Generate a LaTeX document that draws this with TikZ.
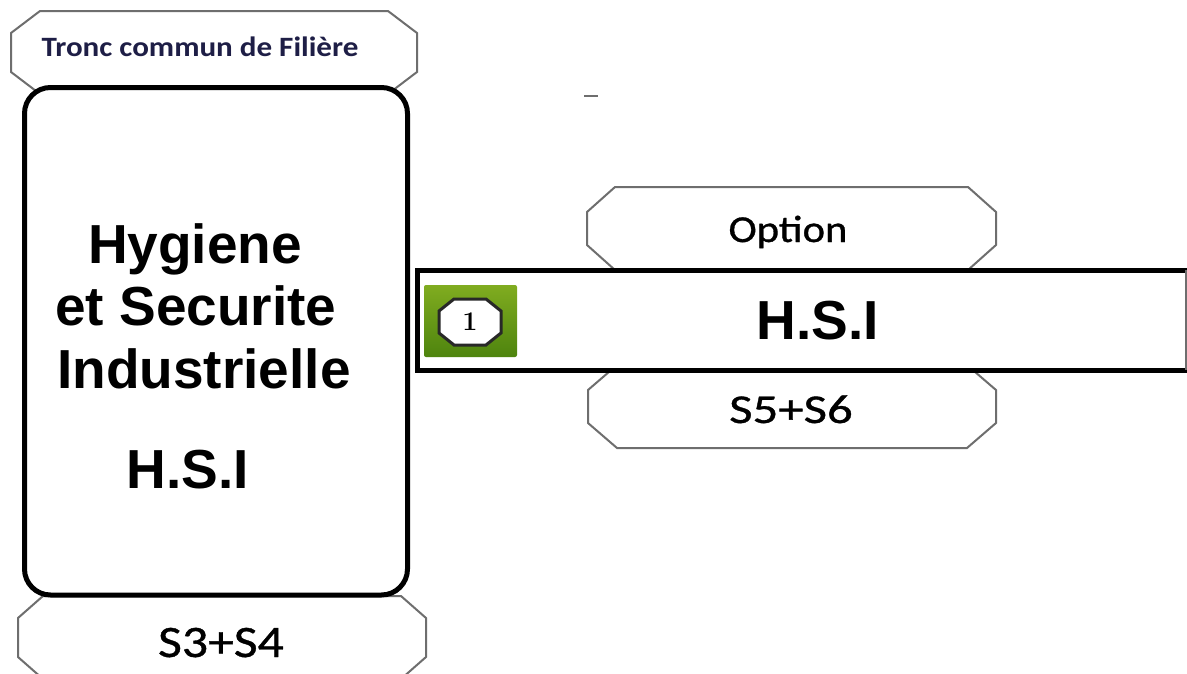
\documentclass[tikz,border=0pt]{standalone}
\usepackage{fontspec}
\usepackage{graphicx}
\usetikzlibrary{calc}
\newfontfamily\arialfont{Liberation Sans}
\newfontfamily\calfont{Carlito}[FakeBold=0.8]
\newfontfamily\calbold{Carlito Bold}
\definecolor{framegray}{RGB}{110,110,110}
\definecolor{navytext}{RGB}{30,30,70}
\definecolor{greentop}{RGB}{128,172,32}
\definecolor{greenbot}{RGB}{78,132,14}
\definecolor{octedge}{RGB}{40,40,40}
\newcommand\octoframe[4]{%
  \filldraw[#4] ($(#1.north west)+(#2,0)$) -- ($(#1.north east)+(-#2,0)$) -- ($(#1.north east)+(0,#3)$) -- ($(#1.south east)+(0,-#3)$) -- ($(#1.south east)+(-#2,0)$) -- ($(#1.south west)+(#2,0)$) -- ($(#1.south west)+(0,-#3)$) -- ($(#1.north west)+(0,#3)$) -- cycle;}
\begin{document}
\begin{tikzpicture}[x=1pt,y=-1pt,
  octo/.style={fill=white,draw=framegray,line width=2pt,line join=miter},
  badgeoct/.style={fill=white,draw=octedge,line width=3pt,line join=miter},
  holder/.style={draw=none,inner sep=0pt,outer sep=0pt},
  mainbox/.style={draw=black,fill=white,line width=5pt,rounded corners=26pt,inner sep=0pt,outer sep=0pt},
  bigtext/.style={inner sep=0pt,anchor=base,font=\arialfont\bfseries\fontsize{55}{60}\selectfont},
  caltext/.style={inner sep=0pt,anchor=base,font=\calfont}]
\useasboundingbox (0,0) rectangle (1187,673);
\clip (0,0) rectangle (1187,673);
\fill[white] (0,0) rectangle (1187,673);

% top label frame
\node[holder,minimum width=406pt,minimum height=83pt] (troncf) at (214,52.5) {};
\octoframe{troncf}{29}{22}{octo}
\node[inner sep=0pt,anchor=base,font=\calbold,text=navytext] (tronc) at (200,56) {\fontsize{28}{30}\selectfont\scalebox{1.11}[1]{Tronc commun de Filière}};

% bottom label frame (left)
\node[holder,minimum width=408pt,minimum height=83pt] (s34f) at (222,637.5) {};
\octoframe{s34f}{25}{22}{octo}

% main box
\node[mainbox,minimum width=383pt,minimum height=507.5pt] (hsibox) at (216,341.25) {};
\node[bigtext] (hyg) at (195,263) {Hygiene};
\node[bigtext] (etsec) at (196,325) {et Securite};
\node[bigtext] (indus) at (204,388) {Industrielle};
\node[bigtext] (hsileft) at (188,488) {H.S.I};

\node[caltext] (s34) at (221,657) {\fontsize{45}{48}\selectfont\scalebox{1.15}[1]{S3+S4}};

% right frames
\node[holder,minimum width=409pt,minimum height=83pt] (optf) at (791.5,228.5) {};
\octoframe{optf}{28}{25}{octo}
\node[caltext] (opt) at (788,242) {\fontsize{38}{40}\selectfont\scalebox{1.12}[1]{Option}};

\node[holder,minimum width=408pt,minimum height=83pt] (s56f) at (792,406.5) {};
\octoframe{s56f}{29}{25}{octo}
\node[caltext] (s56) at (791,423) {\fontsize{41}{44}\selectfont\scalebox{1.24}[1]{S5+S6}};

% bar
\node[holder,fill=white,minimum width=772pt,minimum height=100pt] (barf) at (803,320) {};
\draw[line width=5pt,line join=miter] (barf.north east) -- (barf.north west) -- (barf.south west) -- (barf.south east);
\draw[framegray,line width=1.5pt] ($(barf.north east)+(-3,0)$) -- ($(barf.south east)+(-3,0)$);
\node[bigtext] (hsibar) at (818,339) {H.S.I};

% badge
\node[holder,rounded corners=2pt,top color=greentop,bottom color=greenbot,minimum width=93pt,minimum height=72pt] (badge) at (470.5,321) {};
\node[holder,minimum width=62pt,minimum height=46pt] (oct1f) at (470,322) {};
\octoframe{oct1f}{15}{12}{badgeoct}
\node[inner sep=0pt] (one) at (470,322) {\fontsize{27}{27}\selectfont\bfseries 1};

% stray dash
\coordinate (dashA) at (584,96);
\coordinate (dashB) at (598,96);
\draw[framegray,line width=2pt] (dashA) -- (dashB);
\end{tikzpicture}
\end{document}
